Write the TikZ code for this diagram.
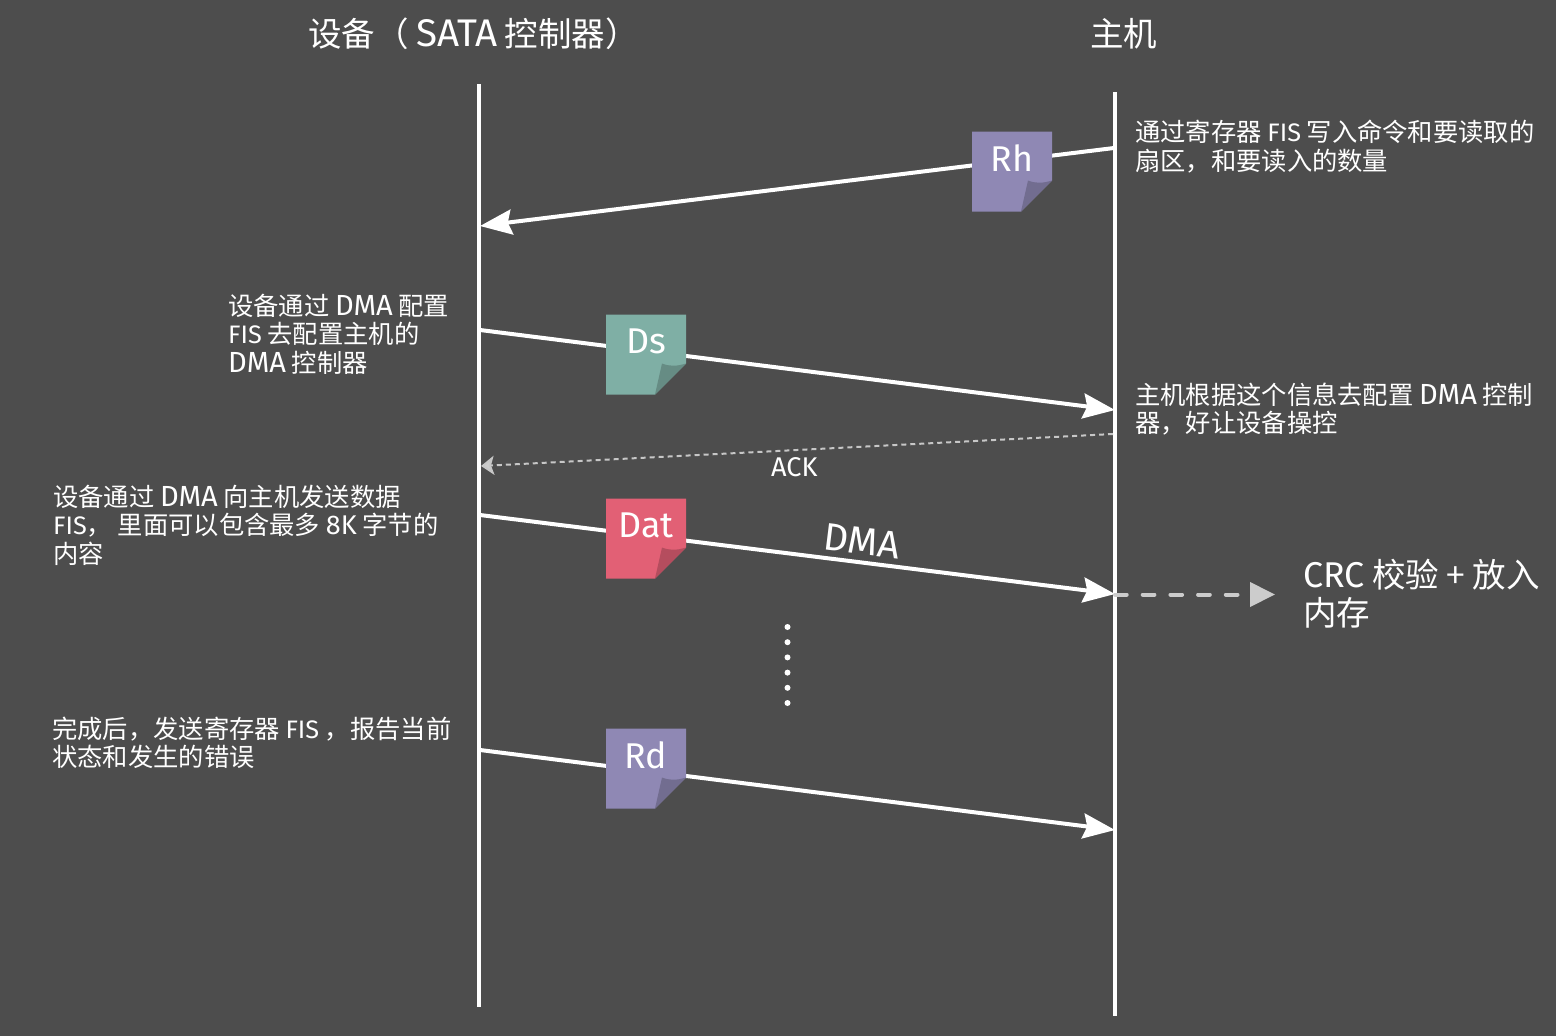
\documentclass[tikz,border=0pt]{standalone}
\usepackage{fontspec}
\setmainfont{Noto Sans CJK SC}
\newfontfamily\latf[Scale=1.07]{Fira Sans}
\newfontfamily\latw[Scale=1.15]{Fira Sans}
\newfontfamily\latn[Scale=1.0]{Fira Sans}
\newcommand{\La}[1]{{\latf #1}}
\newcommand{\Lw}[1]{{\latw #1}}
\newcommand{\Ln}[1]{{\latn #1}}
\usetikzlibrary{arrows.meta}
\definecolor{bgc}{HTML}{4D4D4D}
\definecolor{dashc}{HTML}{CCCCCC}
\definecolor{purp}{HTML}{8F88B4}
\definecolor{purpd}{HTML}{726D90}
\definecolor{teal2}{HTML}{7FAFA5}
\definecolor{teal2d}{HTML}{668C84}
\definecolor{pink2}{HTML}{E26075}
\definecolor{pink2d}{HTML}{B54D5E}
\tikzset{
 lifeline/.style={draw=white,line width=4pt},
 msg/.style={draw=white,line width=4pt,-{Stealth[length=32pt,width=25pt,inset=4pt,fill=white]}},
 lab/.style={text=white,font=\fontsize{25.3pt}{28.5pt}\selectfont,align=left,anchor=west,inner sep=0pt},
 big/.style={text=white,font=\fontsize{33.5pt}{38pt}\selectfont,align=left,inner sep=0pt},
 notebox/.style={minimum size=80pt,inner sep=0pt,text=white,font=\fontsize{33.5pt}{38pt}\selectfont},
}
% name, centre x, centre y, colour, dark colour, text
\newcommand{\notep}[6]{%
 \fill[#4] (#2-40,#3-40) -- (#2+40,#3-40) -- (#2+40,#3+9) -- (#2+9,#3+40) -- (#2-40,#3+40) -- cycle;
 \fill[#5] (#2+40,#3+9) .. controls (#2+30,#3+12) and (#2+24,#3+12) .. (#2+16,#3+9) -- (#2+9,#3+40) -- cycle;
 \node[notebox] (#1) at (#2,#3) {\raisebox{27pt}{\La{#6}}};
}
\begin{document}
\begin{tikzpicture}[x=1pt,y=-1pt]
\useasboundingbox[fill=bgc] (0,0) rectangle (1556,1036);
% lifelines
\coordinate (devtop) at (479,84); \coordinate (devbot) at (479,1007);
\coordinate (hosttop) at (1115,92); \coordinate (hostbot) at (1115,1016);
\draw[lifeline] (devtop) -- (devbot);
\draw[lifeline] (hosttop) -- (hostbot);
% connector ends
\coordinate (rhs) at (1114,148); \coordinate (rhe) at (480,226);
\coordinate (dss) at (480,330); \coordinate (dse) at (1115,410);
\coordinate (acks) at (1113,434); \coordinate (acke) at (481,466);
\coordinate (dats) at (480,515); \coordinate (date) at (1115,594);
\coordinate (rds) at (480,750); \coordinate (rde) at (1115,830);
\coordinate (crcs) at (1115,594.5); \coordinate (crce) at (1275,594.5);
\coordinate (dott) at (787.5,627); \coordinate (dotb) at (787.5,704);
\draw[msg] (rhs) -- (rhe);
\draw[msg] (dss) -- (dse);
\draw[msg] (dats) -- (date);
\draw[msg] (rds) -- (rde);
\draw[draw=dashc!110!white,line width=2pt,dash pattern=on 5pt off 4pt,-{Stealth[length=13pt,width=19pt,inset=3pt,fill=dashc]}] (acks) -- (acke);
\draw[draw=dashc,line width=4pt,line cap=round,dash pattern=on 11.7pt off 16pt,-{Triangle[length=25pt,width=24pt,fill=dashc]}] (crcs) -- (crce);
\draw[draw=white,line width=6pt,line cap=round,dash pattern=on 0pt off 15.2pt] (dott) -- (dotb);
% notes
\notep{rh}{1012}{171.5}{purp}{purpd}{Rh}
\notep{ds}{646}{354.5}{teal2}{teal2d}{Ds}
\notep{dat}{646}{538.5}{pink2}{pink2d}{Dat}
\notep{rd}{646}{768.5}{purp}{purpd}{Rd}
% titles
\node[big,anchor=west] (tdev) at (308,34) {设备（ \Lw{SATA} 控制器）};
\node[big,anchor=west] (thost) at (1090,34) {主机};
% labels
\node[lab] (l1) at (1135,146.5) {通过寄存器 \Ln{FIS} 写入命令和要读取的\\扇区，和要读入的数量};
\node[lab] (l2) at (228,334) {设备通过 \Lw{DMA} 配置\\\Ln{FIS} 去配置主机的\\\Lw{DMA} 控制器};
\node[lab] (l3) at (1135,409) {主机根据这个信息去配置 \Lw{DMA} 控制\\器，好让设备操控};
\node[lab] (l4) at (53,525) {设备通过 \Lw{DMA} 向主机发送数据\\\Ln{FIS}， 里面可以包含最多 \La{8K} 字节的\\内容};
\node[lab] (l5) at (52,743) {完成后，发送寄存器 \Ln{FIS} ，报告当前\\状态和发生的错误};
\node[lab] (ack) at (771,467) {\La{ACK}};
\node[big,anchor=center,rotate=-7] (dma) at (862,541) {\Lw{DMA}};
\node[big,anchor=west] (crc) at (1303,594) {\La{CRC} 校验 + 放入\\内存};
\end{tikzpicture}
\end{document}
